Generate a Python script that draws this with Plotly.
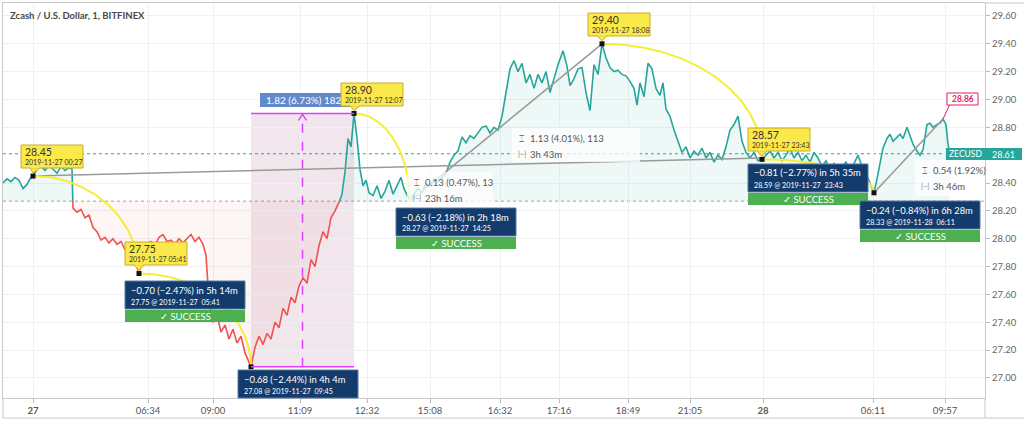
import numpy as np
import plotly.graph_objects as go

# ---------------- data ----------------
bar_index = [
    3, 7, 11, 15, 19, 23, 27, 30, 33, 37,
    41, 45, 49, 53, 57, 61, 65, 69, 72, 73,
    77, 81, 85, 89, 93, 97, 101, 105, 109, 113,
    117, 121, 125, 129, 134, 139, 143, 147, 151, 155,
    159, 163, 167, 171, 175, 179, 183, 187, 191, 195,
    199, 203, 206, 209, 213, 217, 221, 225, 229, 233,
    237, 241, 245, 248, 251, 255, 259, 263, 267, 271,
    275, 279, 283, 287, 291, 295, 299, 303, 307, 311,
    315, 319, 323, 327, 331, 335, 339, 342, 345, 348,
    351, 354, 357, 360, 363, 366, 369, 373, 377, 381,
    385, 389, 393, 397, 401, 404, 407, 410, 414, 418,
    422, 426, 430, 434, 438, 442, 446, 450, 454, 458,
    462, 466, 470, 474, 478, 482, 486, 490, 494, 498,
    502, 506, 510, 514, 518, 522, 526, 530, 534, 538,
    542, 546, 550, 554, 558, 563, 567, 570, 574, 578,
    582, 586, 590, 594, 598, 602, 606, 610, 614, 618,
    622, 626, 630, 634, 637, 640, 644, 648, 652, 656,
    660, 663, 666, 670, 674, 678, 682, 686, 690, 694,
    698, 702, 706, 710, 714, 718, 722, 726, 730, 734,
    738, 742, 746, 750, 754, 758, 762, 766, 770, 774,
    778, 782, 786, 790, 794, 798, 802, 806, 810, 814,
    818, 822, 826, 830, 834, 838, 842, 846, 850, 854,
    858, 862, 866, 870, 874, 877, 880, 883, 887, 890,
    893, 897, 900, 903, 907, 910, 913, 917, 920, 923,
    927, 930, 933, 937, 940, 943, 946, 948, 950,
]
close_price = [
    28.40, 28.43, 28.41, 28.44, 28.42, 28.36, 28.39, 28.43, 28.45, 28.50,
    28.52, 28.49, 28.53, 28.50, 28.47, 28.52, 28.49, 28.51, 28.50, 28.22,
    28.19, 28.21, 28.15, 28.17, 28.08, 28.05, 27.99, 28.01, 27.97, 28.00,
    27.96, 27.98, 27.92, 27.94, 27.86, 27.75, 27.90, 27.96, 27.98, 27.95,
    28.01, 28.03, 27.98, 27.99, 27.96, 28.00, 27.97, 28.00, 28.03, 27.98,
    28.01, 27.96, 27.88, 27.55, 27.40, 27.45, 27.33, 27.38, 27.28, 27.35,
    27.25, 27.30, 27.18, 27.13, 27.08, 27.22, 27.30, 27.24, 27.32, 27.28,
    27.40, 27.36, 27.50, 27.45, 27.58, 27.54, 27.66, 27.72, 27.68, 27.85,
    27.80, 27.95, 28.05, 28.00, 28.15, 28.20, 28.26, 28.32, 28.48, 28.72,
    28.66, 28.90, 28.72, 28.50, 28.38, 28.42, 28.33, 28.31, 28.38, 28.29,
    28.34, 28.42, 28.32, 28.38, 28.44, 28.36, 28.31, 28.27, 28.32, 28.36,
    28.33, 28.40, 28.38, 28.43, 28.41, 28.44, 28.47, 28.55, 28.60, 28.63,
    28.73, 28.69, 28.74, 28.72, 28.76, 28.80, 28.81, 28.76, 28.80, 28.78,
    28.88, 29.05, 29.22, 29.28, 29.20, 29.26, 29.12, 29.18, 29.08, 29.18,
    29.12, 29.20, 29.05, 29.15, 29.25, 29.35, 29.24, 29.10, 29.15, 29.22,
    29.23, 29.05, 28.92, 29.25, 29.18, 29.40, 29.30, 29.23, 29.20, 29.21,
    29.18, 29.17, 29.13, 29.08, 28.96, 29.12, 29.02, 29.26, 29.22, 29.08,
    29.03, 29.12, 28.93, 28.88, 28.78, 28.70, 28.62, 28.66, 28.58, 28.63,
    28.60, 28.65, 28.58, 28.62, 28.55, 28.60, 28.57, 28.66, 28.78, 28.82,
    28.88, 28.70, 28.62, 28.58, 28.62, 28.56, 28.57, 28.60, 28.63, 28.58,
    28.62, 28.56, 28.60, 28.65, 28.58, 28.62, 28.56, 28.60, 28.55, 28.62,
    28.58, 28.52, 28.56, 28.50, 28.54, 28.49, 28.52, 28.55, 28.50, 28.54,
    28.60, 28.52, 28.47, 28.40, 28.33, 28.43, 28.55, 28.65, 28.72, 28.75,
    28.70, 28.73, 28.75, 28.72, 28.80, 28.74, 28.68, 28.63, 28.60, 28.64,
    28.82, 28.83, 28.80, 28.82, 28.83, 28.86, 28.82, 28.68, 28.61,
]
assert len(bar_index) == len(close_price)

baseline_price = 28.27
last_price = 28.61

x_tick_bars = [33, 148, 213, 300, 367, 430, 500, 559, 628, 690, 763, 873, 945]
x_tick_labels = ["<b>27</b>", "06:34", "09:00", "11:09", "12:32", "15:08", "16:32",
                 "17:16", "18:49", "21:05", "<b>28</b>", "06:11", "09:57"]
y_tick_values = [27.00, 27.20, 27.40, 27.60, 27.80, 28.00, 28.20, 28.40,
                 28.80, 29.00, 29.20, 29.40, 29.60]

# forecasts (source -> target)
fc_src_bar = [33, 139, 354, 602, 762]
fc_src_price = [28.45, 27.75, 28.90, 29.40, 28.57]
fc_src_time = ["2019-11-27 00:27", "2019-11-27 05:41", "2019-11-27 12:07",
               "2019-11-27 18:08", "2019-11-27 23:43"]
fc_tgt_bar = [139, 251, 410, 762, 874]
fc_tgt_price = [27.75, 27.08, 28.27, 28.59, 28.33]
fc_tgt_time = ["2019-11-27  05:41", "2019-11-27  09:45", "2019-11-27  14:25",
               "2019-11-27  23:43", "2019-11-28  06:11"]
fc_change = ["−0.70 (−2.47%) in 5h 14m", "−0.68 (−2.44%) in 4h 4m",
             "−0.63 (−2.18%) in 2h 18m", "−0.81 (−2.77%) in 5h 35m",
             "−0.24 (−0.84%) in 6h 28m"]
fc_success = [True, False, True, True, True]

# trend lines
tl_bar0 = [33, 410, 874]
tl_price0 = [28.45, 28.27, 28.33]
tl_bar1 = [762, 602, 943]
tl_price1 = [28.58, 29.40, 28.86]
tl_delta = ["0.13 (0.47%), 13", "1.13 (4.01%), 113", "0.54 (1.92%)"]
tl_span = ["23h 16m", "3h 43m", "3h 46m"]

# price range measurement
pr_bar = [251, 354]
pr_price = [27.08, 28.90]
pr_text = "1.82 (6.73%) 182"

# ---------------- layout constants ----------------
W, H = 1024, 424
PL, PR, PT, PB = 3, 985, 3, 398
XMIN, XMAX = 3, 985
YMIN, YMAX = 26.856, 29.693
FONT = "Liberation Sans Narrow, Lato, DejaVu Sans, sans-serif"
TEAL = "#26a69a"
RED = "#ef5350"
NAVY = "#133b6b"
GREEN = "#4caf50"
YEL = "#fbe84a"


def px2paper_x(x):
    return (x - PL) / (PR - PL)


def px2paper_y(y):
    return (PB - y) / (PB - PT)


def data2paper_y(p):
    return (p - YMIN) / (YMAX - YMIN)


shapes, annots = [], []


def rect(x0, y0, x1, y1, fill, line=None, lw=1, layer="above"):
    shapes.append(dict(type="rect", xref="paper", yref="paper",
                       x0=px2paper_x(x0), x1=px2paper_x(x1),
                       y0=px2paper_y(y1), y1=px2paper_y(y0),
                       fillcolor=fill, layer=layer,
                       line=dict(color=line if line else fill, width=lw if line else 0)))


def pline(x0, y0, x1, y1, color, width=1, dash="solid", layer="above"):
    shapes.append(dict(type="line", xref="paper", yref="paper",
                       x0=px2paper_x(x0), x1=px2paper_x(x1),
                       y0=px2paper_y(y0), y1=px2paper_y(y1),
                       line=dict(color=color, width=width, dash=dash), layer=layer))


def text(x, y, s, size, color, xanchor="left", family=FONT):
    annots.append(dict(xref="paper", yref="paper", x=px2paper_x(x), y=px2paper_y(y),
                       text=s, showarrow=False, xanchor=xanchor, yanchor="middle",
                       font=dict(size=size, color=color, family=family), borderpad=0))


# ---------------- baseline split ----------------
fxs, fys = [bar_index[0]], [close_price[0]]
for i in range(1, len(bar_index)):
    y0, y1 = close_price[i - 1], close_price[i]
    if (y0 - baseline_price) * (y1 - baseline_price) < 0:
        xc = bar_index[i - 1] + (baseline_price - y0) * (bar_index[i] - bar_index[i - 1]) / (y1 - y0)
        fxs.append(xc)
        fys.append(baseline_price)
    fxs.append(bar_index[i])
    fys.append(close_price[i])

up_x, up_y, dn_x, dn_y = [], [], [], []
cur = None
for j in range(len(fxs) - 1):
    side = (fys[j] + fys[j + 1]) / 2 >= baseline_price
    tx, ty = (up_x, up_y) if side else (dn_x, dn_y)
    if side != cur:
        if cur is not None:
            ox, oy = (up_x, up_y) if cur else (dn_x, dn_y)
            ox.append(None)
            oy.append(None)
        tx.append(fxs[j])
        ty.append(fys[j])
        cur = side
    tx.append(fxs[j + 1])
    ty.append(fys[j + 1])

fig = go.Figure()
base_arr = [baseline_price] * len(fxs)
fig.add_trace(go.Scatter(x=fxs, y=base_arr, mode="lines", line=dict(width=0), hoverinfo="skip"))
fig.add_trace(go.Scatter(x=fxs, y=np.maximum(fys, baseline_price), mode="lines", line=dict(width=0),
                         fill="tonexty", fillcolor="rgba(38,166,154,0.08)", hoverinfo="skip"))
fig.add_trace(go.Scatter(x=fxs, y=base_arr, mode="lines", line=dict(width=0), hoverinfo="skip"))
fig.add_trace(go.Scatter(x=fxs, y=np.minimum(fys, baseline_price), mode="lines", line=dict(width=0),
                         fill="tonexty", fillcolor="rgba(239,83,80,0.06)", hoverinfo="skip"))
fig.add_trace(go.Scatter(x=up_x, y=up_y, mode="lines", line=dict(color=TEAL, width=1.6)))
fig.add_trace(go.Scatter(x=dn_x, y=dn_y, mode="lines", line=dict(color=RED, width=1.6)))

# trend lines
for i in range(len(tl_bar0)):
    fig.add_trace(go.Scatter(x=[tl_bar0[i], tl_bar1[i]], y=[tl_price0[i], tl_price1[i]],
                             mode="lines", line=dict(color="#9a9a9a", width=1.6)))

# forecast arcs
t = np.linspace(0, np.pi / 2, 60)
for i in range(len(fc_src_bar)):
    xs = fc_src_bar[i] + (fc_tgt_bar[i] - fc_src_bar[i]) * np.sin(t)
    ys = fc_tgt_price[i] + (fc_src_price[i] - fc_tgt_price[i]) * np.cos(t)
    fig.add_trace(go.Scatter(x=xs, y=ys, mode="lines", line=dict(color="#f4ee3a", width=2)))

# markers
mk_x = fc_src_bar + [fc_tgt_bar[1], fc_tgt_bar[4]]
mk_y = fc_src_price + [fc_tgt_price[1], fc_tgt_price[4]]
fig.add_trace(go.Scatter(x=mk_x, y=mk_y, mode="markers",
                         marker=dict(symbol="square", size=5, color="#111")))

# ---------------- shapes ----------------
shapes.append(dict(type="line", xref="paper", yref="y", x0=0, x1=1, y0=baseline_price, y1=baseline_price,
                   line=dict(color="#a0a3ab", width=1, dash="dot"), layer="below"))
shapes.append(dict(type="line", xref="paper", yref="y", x0=0, x1=1, y0=last_price, y1=last_price,
                   line=dict(color=TEAL, width=1, dash="dot"), layer="below"))

# price range rectangle
shapes.append(dict(type="rect", xref="x", yref="y", x0=pr_bar[0], x1=pr_bar[1], y0=pr_price[0], y1=pr_price[1],
                   fillcolor="rgba(150,50,110,0.12)", line=dict(width=0), layer="below"))
for pv in pr_price:
    shapes.append(dict(type="line", xref="x", yref="y", x0=pr_bar[0], x1=pr_bar[1], y0=pv, y1=pv,
                       line=dict(color="#e040fb", width=1.5), layer="above"))
mid = (pr_bar[0] + pr_bar[1]) / 2
shapes.append(dict(type="line", xref="x", yref="y", x0=mid, x1=mid, y0=pr_price[0], y1=pr_price[1],
                   line=dict(color="#e040fb", width=1.5, dash="dash"), layer="above"))
tipx = PL + (mid - XMIN) / (XMAX - XMIN) * (PR - PL)
tipy = PT + (YMAX - pr_price[1]) / (YMAX - YMIN) * (PB - PT)
pline(tipx, tipy + 1, tipx - 4, tipy + 7, "#e040fb", 1.5)
pline(tipx, tipy + 1, tipx + 4, tipy + 7, "#e040fb", 1.5)

# blue price-range label
rect(260, 93, 353, 107, "#6289cb")
text(265, 100, pr_text, 10, "white")

# yellow labels
yl_box = [(21, 145), (125, 242), (341, 83), (588, 13), (748, 128)]
for i, (bx, by) in enumerate(yl_box):
    rect(bx, by, bx + 62, by + 23, YEL, "#c9ac2c", 1)
    ptx = px2paper_x(PL + (fc_src_bar[i] - XMIN) / (XMAX - XMIN) * (PR - PL))
    pty = data2paper_y(fc_src_price[i]) + 0.008
    shapes.append(dict(type="path", xref="paper", yref="paper",
                       path=f"M {px2paper_x(bx + 9)},{px2paper_y(by + 23)} L {ptx},{pty} L {px2paper_x(bx + 19)},{px2paper_y(by + 23)} Z",
                       fillcolor=YEL, line=dict(color="#c9ac2c", width=1), layer="above"))
    rect(bx + 9.5, by + 21.5, bx + 18.5, by + 23.5, YEL)
    text(bx + 3, by + 7, f"{fc_src_price[i]:.2f}", 10.5, "#333")
    text(bx + 3, by + 17, fc_src_time[i], 7, "#333")

# navy forecast boxes
nv_box = [(125, 281), (238, 370), (396, 208), (748, 164), (860, 201)]
for i, (bx, by) in enumerate(nv_box):
    rect(bx, by, bx + 120, by + 28, NAVY, "#5a7aa5", 1)
    text(bx + 5, by + 9, fc_change[i], 9.4, "white")
    text(bx + 5, by + 21, f"{fc_tgt_price[i]:.2f} @ {fc_tgt_time[i]}", 7.2, "white")
    if fc_success[i]:
        rect(bx, by + 29, bx + 120, by + 41, GREEN)
        text(bx + 60, by + 35.5, "✓ SUCCESS", 9.5, "white", xanchor="center")

# trend measurement labels
tm_box = [(407, 172, 493, 207), (512, 128, 640, 162), (915, 160, 985, 196)]
for i, (x0, y0, x1, y1) in enumerate(tm_box):
    rect(x0, y0, x1, y1, "rgba(255,255,255,0.75)")
    text(x0 + 6, y0 + 10, "⌶", 9, "#777")
    text(x0 + 17, y0 + 10, tl_delta[i], 9.5, "#555")
    text(x0 + 5, y0 + 26, "|–|", 7.5, "#777")
    text(x0 + 17, y0 + 26, tl_span[i], 9.5, "#555")

# pink label for 28.86
tipx2 = PL + (tl_bar1[2] - XMIN) / (XMAX - XMIN) * (PR - PL)
tipy2 = PT + (YMAX - tl_price1[2]) / (YMAX - YMIN) * (PB - PT)
pline(tipx2, tipy2, 950, 104, "#e91e63", 1)
rect(947, 93, 978, 105, "white", "#e91e63", 1)
text(962.5, 99, f"<b>{tl_price1[2]:.2f}</b>", 8.5, "#e91e63", xanchor="center")

# ZECUSD and last price labels
rect(946, 148, 985, 160, TEAL)
text(965.5, 154, "ZECUSD", 8.5, "white", xanchor="center")
rect(985, 148, 1022, 160, TEAL)
text(1003.5, 154, f"{last_price:.2f}", 9, "white", xanchor="center")

# frame lines outside plot
pline(3, 398, 3, 418, "#c8c8c8", 1)
pline(985, 398, 985, 418, "#c8c8c8", 1)
pline(3, 418, 1024, 418, "#c8c8c8", 1)
pline(985, 3, 1024, 3, "#c8c8c8", 1)

# title
text(9, 15, "<b>Zcash / U.S. Dollar, 1, BITFINEX</b>", 9.5, "#4a4a4a")

fig.update_layout(
    width=W, height=H,
    margin=dict(l=PL, r=W - PR, t=PT, b=H - PB),
    paper_bgcolor="white", plot_bgcolor="white",
    showlegend=False,
    shapes=shapes, annotations=annots,
    font=dict(family=FONT, size=10, color="#555"),
    xaxis=dict(range=[XMIN, XMAX], tickvals=x_tick_bars, ticktext=x_tick_labels,
               showgrid=True, gridcolor="#eff1f5", zeroline=False,
               showline=True, linecolor="#c8c8c8", mirror=True,
               ticks="outside", ticklen=4, tickcolor="#bbb",
               tickfont=dict(size=9.5, color="#555", family=FONT)),
    yaxis=dict(range=[YMIN, YMAX], side="right", tickvals=y_tick_values,
               ticktext=[f"{v:.2f}" for v in y_tick_values],
               showgrid=True, gridcolor="#eff1f5", zeroline=False,
               showline=True, linecolor="#c8c8c8", mirror=True,
               ticks="outside", ticklen=4, tickcolor="#bbb",
               tickfont=dict(size=9.5, color="#666", family=FONT)),
)

fig.write_html("out.html")
